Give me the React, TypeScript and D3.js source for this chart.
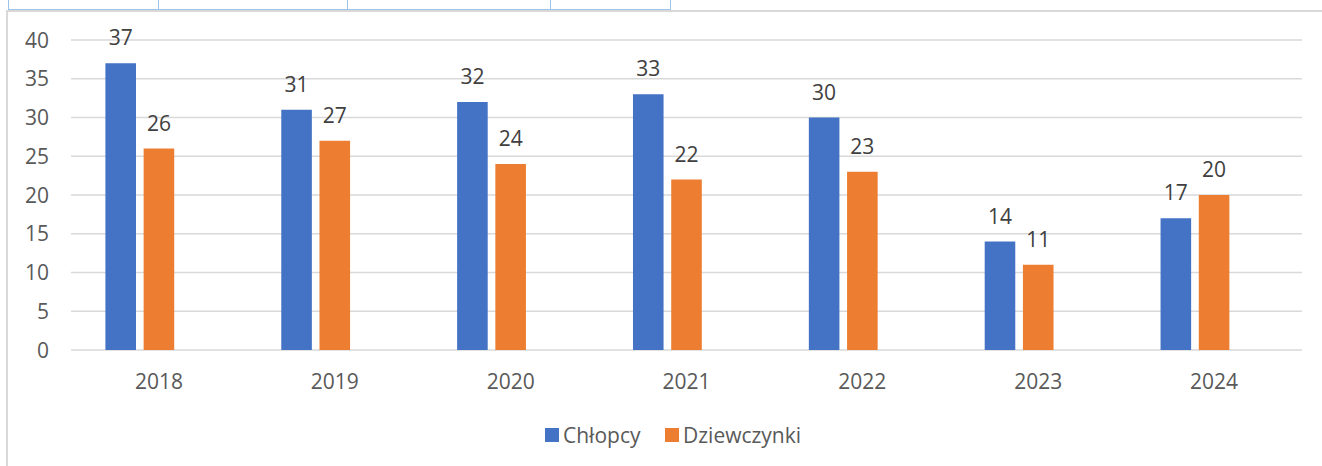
import { useEffect, useRef } from 'react'
import * as d3 from 'd3'

// --- DATA ---
const years = ['2018', '2019', '2020', '2021', '2022', '2023', '2024']
const chlopcy = [37, 31, 32, 33, 30, 14, 17]
const dziewczynki = [26, 27, 24, 22, 23, 11, 20]
const seriesNames = ['Chłopcy', 'Dziewczynki']
const seriesColors = ['#4472C4', '#ED7D31']
const yTicks = [0, 5, 10, 15, 20, 25, 30, 35, 40]
// the source chart keeps a third (empty) series slot, which shifts the bars left
const slotKeys = ['Chłopcy', 'Dziewczynki', '(pusta)']
// leftover table cell borders above the chart
const tableCells = [8, 158, 347, 550, 670]

const W = 1322
const H = 466
const FONT = '"Open Sans", "Noto Sans", sans-serif'
const FONT_SIZE = '21px'
const TEXT = '#595959'
const GRID = '#d9d9d9'

export default function App() {
  const svgRef = useRef<SVGSVGElement | null>(null)

  useEffect(() => {
    document.body.style.margin = '0'
    if (!svgRef.current) return
    const svg = d3.select<SVGSVGElement, unknown>(svgRef.current)
    svg.selectAll('*').remove()

    const plot = { left: 71, right: 1302, top: 40, bottom: 350 }

    // --- SCALES ---
    const x0 = d3.scaleBand<string>().domain(years).range([plot.left, plot.right])
    const x1 = d3
      .scaleBand<string>()
      .domain(slotKeys)
      .range([0, x0.bandwidth()])
      .paddingInner(0.2)
      .paddingOuter(0.9)
    const y = d3.scaleLinear().domain([0, 40]).range([plot.bottom, plot.top])

    // --- FRAME ---
    svg
      .append('line')
      .attr('x1', 7)
      .attr('x2', 7)
      .attr('y1', 11)
      .attr('y2', H)
      .attr('stroke', GRID)
      .attr('stroke-width', 2)
    svg
      .append('line')
      .attr('x1', 6)
      .attr('x2', W)
      .attr('y1', 11)
      .attr('y2', 11)
      .attr('stroke', GRID)
      .attr('stroke-width', 2)

    svg
      .append('line')
      .attr('x1', tableCells[0])
      .attr('x2', tableCells[tableCells.length - 1])
      .attr('y1', 9.5)
      .attr('y2', 9.5)
      .attr('stroke', '#9DC3E6')
      .attr('stroke-width', 1)
    svg
      .selectAll('.cell')
      .data(tableCells)
      .enter()
      .append('line')
      .attr('x1', (d) => d + 0.5)
      .attr('x2', (d) => d + 0.5)
      .attr('y1', 0)
      .attr('y2', 10)
      .attr('stroke', '#9DC3E6')
      .attr('stroke-width', 1)

    // --- GRID + Y LABELS ---
    svg
      .append('g')
      .selectAll('line')
      .data(yTicks)
      .enter()
      .append('line')
      .attr('x1', plot.left)
      .attr('x2', plot.right)
      .attr('y1', (d) => y(d))
      .attr('y2', (d) => y(d))
      .attr('stroke', GRID)
      .attr('stroke-width', 1.5)

    svg
      .append('g')
      .selectAll('text')
      .data(yTicks)
      .enter()
      .append('text')
      .attr('x', 49)
      .attr('y', (d) => y(d))
      .attr('dy', '0.36em')
      .attr('text-anchor', 'end')
      .attr('fill', TEXT)
      .style('font-family', FONT)
      .style('font-size', FONT_SIZE)
      .text((d) => d)

    // --- BARS ---
    const series = [chlopcy, dziewczynki]
    series.forEach((values, si) => {
      const g = svg.append('g')
      const rows = years.map((yr, i) => ({ yr, v: values[i] }))
      g.selectAll('rect')
        .data(rows)
        .enter()
        .append('rect')
        .attr('x', (d) => (x0(d.yr) ?? 0) + (x1(slotKeys[si]) ?? 0))
        .attr('y', (d) => y(d.v))
        .attr('width', x1.bandwidth())
        .attr('height', (d) => y(0) - y(d.v))
        .attr('fill', seriesColors[si])

      g.selectAll('text')
        .data(rows)
        .enter()
        .append('text')
        .attr('x', (d) => (x0(d.yr) ?? 0) + (x1(slotKeys[si]) ?? 0) + x1.bandwidth() / 2)
        .attr('y', (d) => y(d.v) - 18)
        .attr('text-anchor', 'middle')
        .attr('fill', '#404040')
        .style('font-family', FONT)
        .style('font-size', FONT_SIZE)
        .text((d) => d.v)
    })

    // --- X LABELS ---
    svg
      .append('g')
      .selectAll('text')
      .data(years)
      .enter()
      .append('text')
      .attr('x', (d) => (x0(d) ?? 0) + x0.bandwidth() / 2)
      .attr('y', 389)
      .attr('text-anchor', 'middle')
      .attr('fill', TEXT)
      .style('font-family', FONT)
      .style('font-size', FONT_SIZE)
      .text((d) => d)

    // --- LEGEND ---
    const legendX = [545, 665]
    seriesNames.forEach((name, i) => {
      svg
        .append('rect')
        .attr('x', legendX[i])
        .attr('y', 428)
        .attr('width', 14)
        .attr('height', 14)
        .attr('fill', seriesColors[i])
      svg
        .append('text')
        .attr('x', legendX[i] + 18)
        .attr('y', 443)
        .attr('fill', TEXT)
        .style('font-family', FONT)
        .style('font-size', FONT_SIZE)
        .text(name)
    })
  }, [])

  return (
    <div style={{ width: W, height: H, background: '#fff' }}>
      <svg ref={svgRef} width={W} height={H} style={{ display: 'block' }} />
    </div>
  )
}
